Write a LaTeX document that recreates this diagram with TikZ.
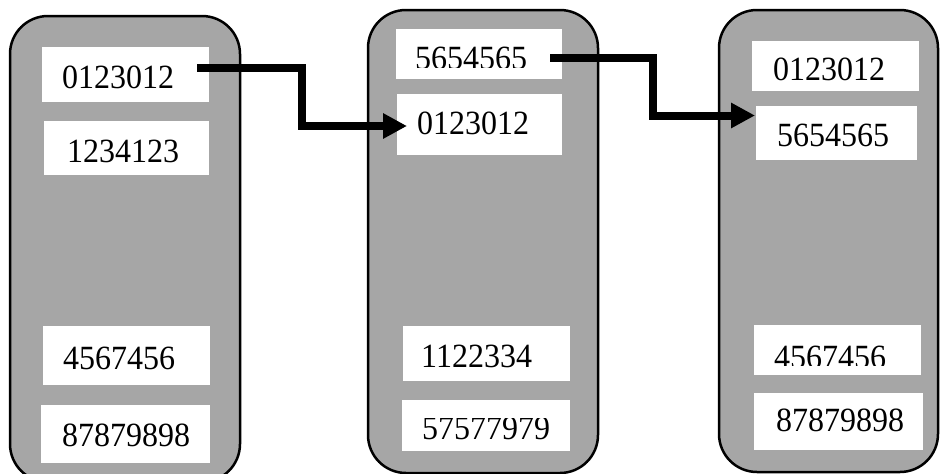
\documentclass[tikz,border=0pt]{standalone}
\usepackage{fontspec}
\setmainfont{Liberation Serif}
\usetikzlibrary{arrows.meta,fit,calc}
\definecolor{contgray}{RGB}{166,166,166}
\newcommand{\tallnum}[1]{\scalebox{1}[1.06]{#1}}
\begin{document}
\begin{tikzpicture}[x=1pt,y=-1pt,
  container/.style={draw=black,line width=2.5pt,fill=contgray,rounded corners=38pt,inner sep=0pt},
  wbox/.style={fill=white,inner sep=0pt,draw=none},
  num/.style={anchor=base west,inner sep=0pt,font=\fontsize{32}{38}\selectfont},
  link/.style={line width=8pt,-{Triangle[length=24pt,width=24pt]}}]
\useasboundingbox (0,0) rectangle (940,474);
\begin{scope}
\clip (0,0) rectangle (940,474);
% containers
\node[container,minimum width=230pt,minimum height=466pt] (C1) at (125,249) {};
\node[container,minimum width=230pt,minimum height=463pt] (C2) at (483,241.5) {};
\node[container,minimum width=219pt,minimum height=462pt] (C3) at (828.5,241) {};
% white boxes
\node[wbox,fit={(42,47)(209,102)}] (L1) {};
\node[wbox,fit={(44,121)(209,175)}] (L2) {};
\node[wbox,fit={(43,326)(210,385)}] (L3) {};
\node[wbox,fit={(41,405)(210,463)}] (L4) {};
\node[wbox,fit={(396,29)(562,79)}] (M1) {};
\node[wbox,fit={(397,94)(562,155)}] (M2) {};
\node[wbox,fit={(403,326)(570,381)}] (M3) {};
\node[wbox,fit={(402,400)(570,451)}] (M4) {};
\node[wbox,fit={(752,41)(919,91)}] (R1) {};
\node[wbox,fit={(756,106)(917,160)}] (R2) {};
\node[wbox,fit={(754,325)(921,375)}] (R3) {};
\node[wbox,fit={(754,393)(923,450)}] (R4) {};
% texts
\node[num] (tL1) at (62,88) {\tallnum{0123012}};
\node[num] (tL2) at (67,162) {\tallnum{1234123}};
\node[num] (tL3) at (63,369) {\tallnum{4567456}};
\node[num] (tL4) at (62,446) {\tallnum{87879898}};
\begin{scope}
\clip (396,29) rectangle (562,67);
\node[num] (tM1) at (415,69) {\tallnum{5654565}};
\end{scope}
\node[num] (tM2) at (417,134) {\tallnum{0123012}};
\node[num] (tM3) at (421,367) {\tallnum{1122334}};
\begin{scope}
\clip (402,418) rectangle (570,451);
\node[num] (tM4) at (422,439) {\tallnum{57577979}};
\end{scope}
\node[num] (tR1) at (773,80) {\tallnum{0123012}};
\node[num] (tR2) at (777,146) {\tallnum{5654565}};
\begin{scope}
\clip (754,325) rectangle (921,365);
\node[num] (tR3) at (774,368) {\tallnum{4567456}};
\end{scope}
\node[num] (tR4) at (776,431) {\tallnum{87879898}};
% connectors
\coordinate (s1) at (197,67.5);
\coordinate (b1) at (302,67.5);
\coordinate (e1) at (407,126);
\coordinate (s2) at (550,57.5);
\coordinate (b2) at (652.5,57.5);
\coordinate (e2) at (755,115.5);
\draw[link] (s1) -- (b1) |- (e1);
\draw[link] (s2) -- (b2) |- (e2);
\end{scope}
\end{tikzpicture}
\end{document}
